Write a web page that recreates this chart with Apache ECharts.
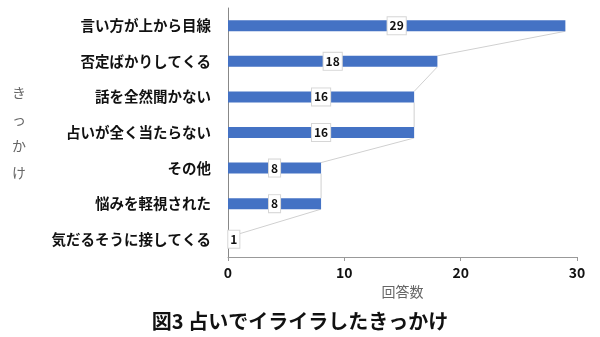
<!DOCTYPE html>
<html>
<head>
<meta charset="utf-8">
<script src="https://cdn.jsdelivr.net/npm/echarts@6/dist/echarts.min.js"></script>
<style>
  html, body { margin: 0; padding: 0; background: #fff; }
  #chart { width: 600px; height: 337px; }
</style>
</head>
<body>
<div id="chart"></div>
<script>
// Reasons for irritation during fortune-telling sessions (number of answers)
const categories = [
  '言い方が上から目線',
  '否定ばかりしてくる',
  '話を全然聞かない',
  '占いが全く当たらない',
  'その他',
  '悩みを軽視された',
  '気だるそうに接してくる'
];
const counts = [29, 18, 16, 16, 8, 8, 1];
const xTicks = [0, 10, 20, 30];

const titleText = '図3 占いでイライラしたきっかけ';
const xName = '回答数';
const yName = 'きっかけ';

const FONT = '"Noto Sans CJK JP", "Noto Sans", sans-serif';
const BAR_W = 11;

// segments joining the end of each bar to the end of the next one
const joinData = counts.slice(0, -1).map((v, i) => [v, i, counts[i + 1], i + 1]);

const chart = echarts.init(document.getElementById('chart'));
chart.setOption({
  animation: false,
  textStyle: { fontFamily: FONT },
  title: {
    text: titleText,
    left: 'center',
    top: 306,
    textStyle: { fontFamily: FONT, fontSize: 20, fontWeight: 'bold', color: '#111' }
  },
  grid: { left: 228, right: 23, top: 8, bottom: 80 },
  xAxis: {
    type: 'value',
    min: xTicks[0],
    max: xTicks[xTicks.length - 1],
    interval: xTicks[1] - xTicks[0],
    name: xName,
    nameLocation: 'middle',
    nameGap: 22,
    nameTextStyle: { fontFamily: FONT, fontSize: 14, color: '#666' },
    axisLine: { show: true, lineStyle: { color: '#999', width: 1 } },
    axisTick: { show: true, length: 4, lineStyle: { color: '#999' } },
    splitLine: { show: false },
    axisLabel: { fontFamily: FONT, fontSize: 14, fontWeight: 'bold', color: '#111', margin: 9 }
  },
  yAxis: {
    type: 'category',
    data: categories,
    inverse: true,
    name: yName.split('').join('\n'),
    nameLocation: 'middle',
    nameRotate: 0,
    nameGap: 202,
    nameTextStyle: { fontFamily: FONT, fontSize: 14, color: '#666', lineHeight: 26.5 },
    axisLine: { show: true, lineStyle: { color: '#888', width: 1 } },
    axisTick: { show: false },
    axisLabel: { fontFamily: FONT, fontSize: 14.5, fontWeight: 'bold', color: '#111', margin: 17 }
  },
  series: [
    {
      type: 'custom',
      coordinateSystem: 'cartesian2d',
      z: 1,
      silent: true,
      data: joinData,
      encode: { x: 0, y: 1 },
      renderItem: function (params, api) {
        const p1 = api.coord([api.value(0), api.value(1)]);
        const p2 = api.coord([api.value(2), api.value(3)]);
        return {
          type: 'line',
          shape: { x1: p1[0], y1: p1[1] + BAR_W / 2, x2: p2[0], y2: p2[1] - BAR_W / 2 },
          style: { stroke: '#d0d0d0', lineWidth: 1 }
        };
      }
    },
    {
      type: 'bar',
      z: 2,
      data: counts,
      barWidth: BAR_W,
      itemStyle: { color: '#4472C4' },
      label: {
        show: true,
        position: 'inside',
        fontFamily: FONT,
        fontSize: 12,
        fontWeight: 'bold',
        color: '#111',
        backgroundColor: '#fff',
        borderColor: '#d6d6d6',
        borderWidth: 1,
        padding: [3, 2, 2, 2]
      }
    }
  ]
});
</script>
</body>
</html>
